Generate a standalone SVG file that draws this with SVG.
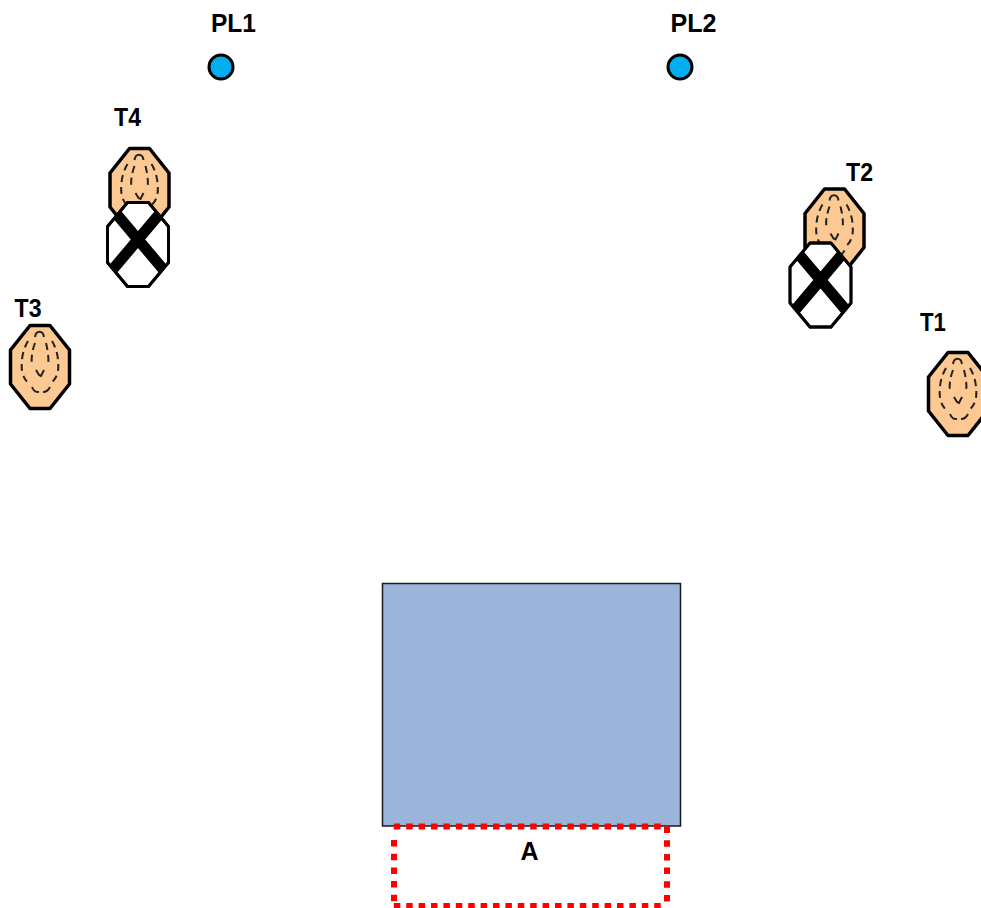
<svg xmlns="http://www.w3.org/2000/svg" xmlns:xlink="http://www.w3.org/1999/xlink" width="981" height="908" viewBox="0 0 981 908">
<style>
.lbl{font-family:"Liberation Sans",Arial,sans-serif;font-weight:700;font-size:25px;fill:#000;text-anchor:middle}
.pl{fill:#00aeef;stroke:#000;stroke-width:3}
.body{fill:#fcc993;stroke:#000;stroke-width:3.5;stroke-linejoin:round}
.dash{fill:none;stroke:#222;stroke-width:2;stroke-dasharray:7 5}
.solid{fill:none;stroke:#222;stroke-width:2}
.blank{fill:#fff;stroke:#000;stroke-width:2.800;stroke-linejoin:round}
.outline{fill:none;stroke:#000;stroke-width:2.800;stroke-linejoin:round}
.x{stroke:#000;stroke-width:11;fill:none}
.red{fill:none;stroke:#ff0000;stroke-width:6}
</style>
<defs>
<clipPath id="octa"><polygon points="-10.500,-42 10.500,-42 30.500,-18 30.500,18 10.500,42 -10.500,42 -30.500,18 -30.500,-18"/></clipPath>
<g id="target">
<polygon class="body" points="-10,-41.500 10,-41.500 29.500,-17 29.500,17 10,41.500 -10,41.500 -29.500,17 -29.500,-17"/>
<path class="solid" d="M-5,-30 C-4,-37 3,-37 4,-30"/>
<path class="dash" d="M-12,-26 C-18,-16 -19,-4 -18,4 C-17,9 -15,13 -11,17"/>
<path class="dash" d="M12,-26 C18,-16 19,-4 18,4 C17,9 15,13 10,17"/>
<path class="dash" d="M-5,-24 C-8,-16 -9,-8 -8,-3 M6,-24 C8,-16 9,-8 8,-3"/>
<path class="solid" d="M-4,3 L-1,8 L1,9 L4,3"/>
<path class="solid" d="M-8,20 C-6,25 -4,25 -1,25 M3,25 C6,25 8,24 10,20"/>
</g>
<g id="crossed">
<polygon class="blank" points="-10.500,-42 10.500,-42 30.500,-18 30.500,18 10.500,42 -10.500,42 -30.500,18 -30.500,-18"/>
<path class="x" clip-path="url(#octa)" d="M-27,-37 L27,27 M27,-37 L-27,27"/>
<polygon class="outline" points="-10.500,-42 10.500,-42 30.500,-18 30.500,18 10.500,42 -10.500,42 -30.500,18 -30.500,-18"/>
</g>
</defs>
<g id="connectors"/>
<g id="PL1"><text class="lbl" x="233.500" y="32" textLength="45" lengthAdjust="spacingAndGlyphs">PL1</text><circle class="pl" cx="221" cy="67" r="12"/></g>
<g id="PL2"><text class="lbl" x="693.500" y="32" textLength="46" lengthAdjust="spacingAndGlyphs">PL2</text><circle class="pl" cx="680" cy="67" r="12"/></g>
<g id="T4"><text class="lbl" x="127.500" y="126" textLength="27" lengthAdjust="spacingAndGlyphs">T4</text><use xlink:href="#target" x="139.500" y="190"/></g>
<g id="T4-blocked"><use xlink:href="#crossed" x="138" y="244.500"/></g>
<g id="T3"><text class="lbl" x="28" y="317" textLength="27" lengthAdjust="spacingAndGlyphs">T3</text><use xlink:href="#target" x="40" y="367"/></g>
<g id="T2"><text class="lbl" x="859.500" y="181" textLength="27" lengthAdjust="spacingAndGlyphs">T2</text><use xlink:href="#target" x="834.500" y="230.500"/></g>
<g id="T2-blocked"><use xlink:href="#crossed" x="820.500" y="285"/></g>
<g id="T1"><text class="lbl" x="933" y="331" textLength="26" lengthAdjust="spacingAndGlyphs">T1</text><use xlink:href="#target" x="958" y="394"/></g>
<g id="block"><rect x="382.500" y="583.500" width="298" height="242.500" fill="#9bb5da" stroke="#1a1a1a" stroke-width="1.500"/></g>
<g id="A">
<path class="red" stroke-dasharray="6.500 5.900" d="M393.800,826.500 H664 M393.800,906 H664"/>
<path class="red" stroke-dasharray="6.500 7.200" d="M394,840 V902 M667,826.500 V902"/>
<text class="lbl" x="529.500" y="860">A</text></g>
</svg>
